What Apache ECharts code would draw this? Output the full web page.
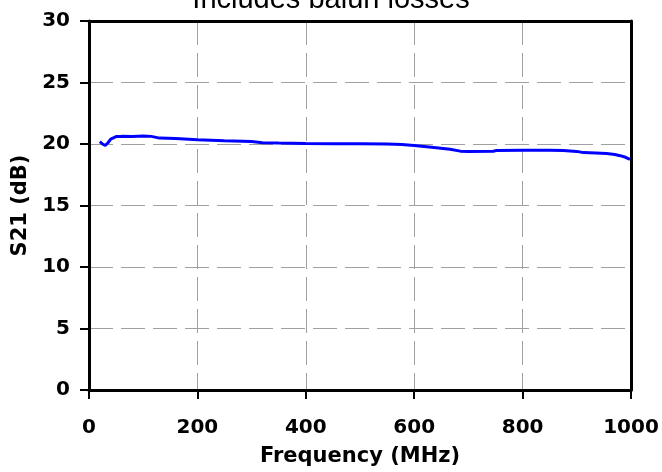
<!DOCTYPE html>
<html>
<head>
<meta charset="utf-8">
<script src="https://cdn.jsdelivr.net/npm/echarts@6/dist/echarts.min.js"></script>
<style>
html,body{margin:0;padding:0;background:#fff;}
#chart{width:662px;height:472px;}
</style>
</head>
<body>
<div id="chart"></div>
<script>
const titleText = "Includes balun losses";
const xName = "Frequency (MHz)";
const yName = "S21 (dB)";
const freqMHz = [20, 25, 30, 35, 40, 50, 60, 80, 100, 115, 130, 160, 200, 250, 300, 320, 350, 400, 450, 500, 550, 577, 600, 623, 645, 666, 685, 700, 746, 752, 800, 850, 875, 900, 912, 935, 955, 970, 980, 990, 998];
const s21dB = [20.2, 20.0, 19.88, 20.1, 20.4, 20.6, 20.62, 20.6, 20.65, 20.62, 20.48, 20.45, 20.35, 20.27, 20.2, 20.1, 20.08, 20.05, 20.03, 20.02, 20.0, 19.95, 19.88, 19.78, 19.68, 19.57, 19.42, 19.4, 19.41, 19.48, 19.5, 19.49, 19.48, 19.4, 19.3, 19.26, 19.22, 19.15, 19.05, 18.92, 18.75];

const chart = echarts.init(document.getElementById('chart'), null, {renderer: 'canvas'});
const labelFont = {fontFamily: 'DejaVu Sans', fontWeight: 'bold', fontSize: 20, color: '#000'};
const nameFont = {fontFamily: 'DejaVu Sans', fontWeight: 'bold', fontSize: 21, color: '#000'};
const gridLine = {show: true, lineStyle: {color: '#a0a0a0', width: 1, type: [24, 8]}};
const borderAxis = {
  axisLine: {show: true, onZero: false, lineStyle: {color: '#000', width: 3}},
  axisTick: {show: false}, axisLabel: {show: false}, splitLine: {show: false}
};
chart.setOption({
  animation: false,
  backgroundColor: '#fff',
  title: {
    text: titleText,
    left: 'center',
    top: -20,
    textStyle: {fontFamily: 'Liberation Sans', fontWeight: 'normal', fontSize: 29, color: '#000'}
  },
  grid: {left: 89, right: 31, top: 21, bottom: 78},
  xAxis: [{
    type: 'value', min: 0, max: 1000, interval: 200,
    name: xName, nameLocation: 'middle', nameGap: 56,
    nameTextStyle: nameFont,
    axisLine: {show: true, onZero: false, lineStyle: {color: '#000', width: 3}},
    axisTick: {show: true, length: 9, lineStyle: {color: '#000', width: 2}},
    axisLabel: Object.assign({margin: 28, formatter: v => String(v)}, labelFont),
    splitLine: gridLine
  }, Object.assign({type: 'value', min: 0, max: 1000, position: 'top'}, borderAxis)],
  yAxis: [{
    type: 'value', min: 0, max: 30, interval: 5,
    name: yName, nameLocation: 'middle', nameGap: 56, nameRotate: 90,
    nameTextStyle: nameFont,
    axisLine: {show: true, onZero: false, lineStyle: {color: '#000', width: 3}},
    axisTick: {show: true, length: 9, lineStyle: {color: '#000', width: 2}},
    axisLabel: Object.assign({margin: 19, formatter: v => String(v)}, labelFont),
    splitLine: gridLine
  }, Object.assign({type: 'value', min: 0, max: 30, position: 'right'}, borderAxis)],
  series: [{
    type: 'line',
    data: freqMHz.map((f, i) => [f, s21dB[i]]),
    showSymbol: false,
    lineStyle: {color: '#0000ff', width: 3},
    itemStyle: {color: '#0000ff'}
  }]
});
</script>
</body>
</html>
